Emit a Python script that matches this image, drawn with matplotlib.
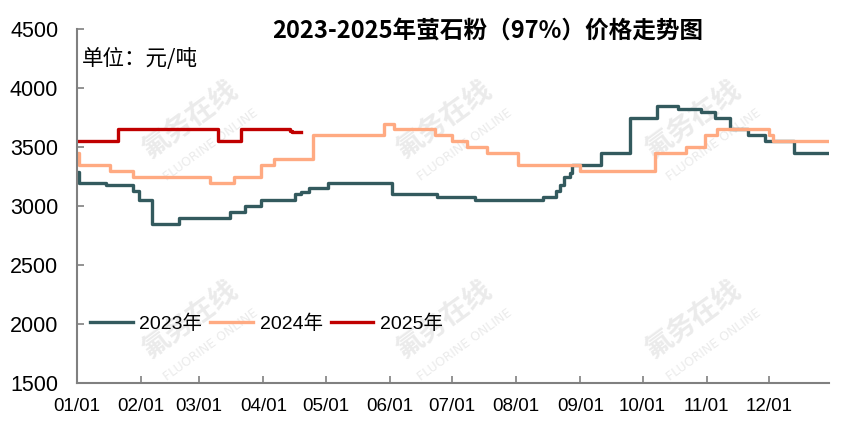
import matplotlib
matplotlib.use("Agg")
import matplotlib.pyplot as plt

# change points (day of year, price)
days_2023 = [0, 1, 14, 27, 30, 36, 49, 74, 81, 89, 105, 108, 112, 121, 152, 174, 192,
             225, 231, 233, 235, 238, 239, 253, 267, 280, 290, 301, 308, 315, 324, 332, 346, 363]
price_2023 = [3290, 3200, 3180, 3130, 3050, 2850, 2900, 2950, 3000, 3050, 3100, 3120, 3150, 3200, 3100, 3075, 3050,
              3075, 3130, 3180, 3250, 3280, 3350, 3450, 3750, 3850, 3825, 3800, 3750, 3650, 3600, 3550, 3450, 3450]

days_2024 = [0, 1, 16, 27, 64, 76, 89, 95, 114, 148, 153, 173, 181, 188, 198, 213,
             243, 279, 294, 303, 309, 334, 336, 363]
price_2024 = [3450, 3350, 3300, 3250, 3200, 3250, 3350, 3400, 3600, 3700, 3650, 3600, 3550, 3500, 3450, 3350,
              3300, 3450, 3500, 3600, 3650, 3600, 3550, 3550]

days_2025 = [0, 20, 68, 79, 103, 104, 108]
price_2025 = [3550, 3650, 3550, 3650, 3640, 3625, 3625]

tick_days = [0, 31, 59, 90, 120, 151, 181, 212, 243, 273, 304, 334]
tick_labels = ["01/01", "02/01", "03/01", "04/01", "05/01", "06/01",
               "07/01", "08/01", "09/01", "10/01", "11/01", "12/01"]
y_ticks = [1500, 2000, 2500, 3000, 3500, 4000, 4500]

cjk = ["Noto Sans CJK SC", "DejaVu Sans"]
num_font = ["Liberation Sans", "Noto Sans CJK SC"]

fig = plt.figure(figsize=(8.46, 4.43), dpi=100)
ax = fig.add_axes([0.091, 0.1354, 0.889, 0.7986])
ax.set_zorder(1)

# faint watermarks behind the plot
for px, py in [(194, 125), (448, 125), (697, 125), (194, 325), (448, 325), (697, 325)]:
    fx, fy = px / 846, 1 - py / 443
    fig.text(fx - 0.005, fy + 0.01, "氟务在线", family=cjk, fontsize=20, fontweight="bold",
             color="#EBEBEB", rotation=36, ha="center", va="center", zorder=-5)
    fig.text(fx + 0.02, fy - 0.045, "FLUORINE ONLINE", family="DejaVu Sans", fontsize=9,
             color="#EBEBEB", rotation=36, ha="center", va="center", zorder=-5)

ax.set_facecolor("none")
ax.plot(days_2023, price_2023, drawstyle="steps-post", color="#335A5E", lw=2.4, label="2023年")
ax.plot(days_2024, price_2024, drawstyle="steps-post", color="#FFAA82", lw=2.4, label="2024年")
ax.plot(days_2025, price_2025, drawstyle="steps-post", color="#C00000", lw=2.4, label="2025年")

ax.set_xlim(0, 363)
ax.set_ylim(1500, 4500)
ax.set_xticks(tick_days)
ax.set_xticklabels(tick_labels)
ax.set_yticks(y_ticks)

for s in ["top", "right"]:
    ax.spines[s].set_visible(False)
for s in ["left", "bottom"]:
    ax.spines[s].set_color("#808080")
    ax.spines[s].set_linewidth(1.5)

ax.tick_params(axis="both", direction="in", length=5, width=1.2, color="#808080")
ax.tick_params(axis="y", pad=13.5)
ax.tick_params(axis="x", pad=11)
for lab in ax.get_yticklabels():
    lab.set_family(num_font)
    lab.set_fontsize(15.5)
for lab in ax.get_xticklabels():
    lab.set_family(num_font)
    lab.set_fontsize(13.5)

leg = ax.legend(loc="center left", bbox_to_anchor=(0.017, 0.167), ncol=3, frameon=False,
                prop={"family": num_font, "size": 14}, handlelength=2.2, handletextpad=0.35,
                columnspacing=0.4, borderpad=0, borderaxespad=0)

fig.text(0.577, 0.932, "2023-2025年萤石粉（97%）价格走势图", family=cjk, fontsize=17,
         fontweight="bold", ha="center", va="center")
fig.text(0.097, 0.867, "单位：元/吨", family=cjk, fontsize=15.5, ha="left", va="center")

fig.savefig("out.png", dpi=100)
